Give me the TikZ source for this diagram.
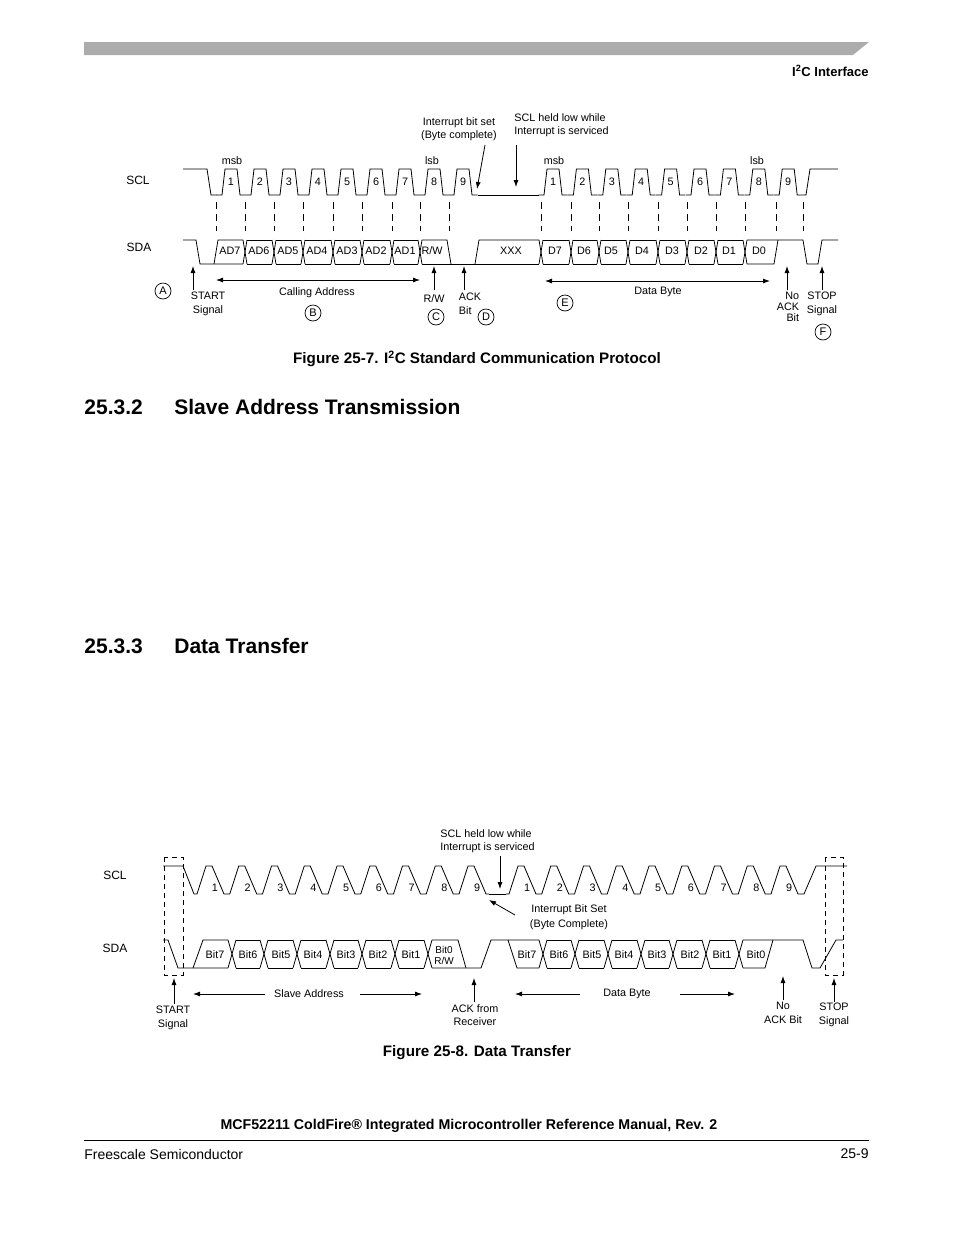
\documentclass[tikz,border=0pt]{standalone}
\usepackage{fontspec}
\setmainfont{Liberation Sans}
\usetikzlibrary{arrows.meta}
\begin{document}
\begin{tikzpicture}[x=1pt,y=-1pt,line width=0.8pt,
  lbl/.style={font=\fontsize{10.8}{13.5}\selectfont,inner sep=0pt,align=center},
  sig/.style={font=\fontsize{12}{14}\selectfont,inner sep=0pt},
  circ/.style={draw,circle,minimum size=16pt,inner sep=0pt,font=\fontsize{11}{12}\selectfont,line width=0.7pt},
  arr/.style={-{Latex[length=7pt,width=5pt]},line width=0.8pt},
  darr/.style={{Latex[length=7pt,width=5pt]}-{Latex[length=7pt,width=5pt]},line width=0.8pt},
  dsh/.style={dash pattern=on 7pt off 5pt,line width=0.8pt},
  head/.style={font=\fontsize{21}{24}\selectfont\bfseries,anchor=west,inner sep=0pt},
  figcap/.style={font=\fontsize{15.2}{17}\selectfont\bfseries,inner sep=0pt}]
\useasboundingbox (0,0) rectangle (954,1235);
% header
\fill[gray!65] (84,42) -- (869,42) -- (853,55) -- (84,55) -- cycle;
\node[anchor=east,inner sep=0pt,font=\fontsize{13}{14}\selectfont\bfseries] (hdr) at (869,71) {I\textsuperscript{2}C Interface};
% ===== Figure 25-7 =====
\node[sig] (scl1) at (138,180) {SCL};
\node[sig] (sda1) at (139,247) {SDA};
% SCL
\draw (183,169)--(207,169)--(211,195)--(217,195);
\foreach \k in {0,...,8}{
  \pgfmathsetmacro\c{231+29*\k}
  \draw (\c-14.5,195)--(\c-9,195)--(\c-6,169)--(\c+6,169)--(\c+9,195)--(\c+14.5,195);
  \pgfmathtruncatemacro\n{\k+1}
  \node[lbl] at (\c,182) {\n};
}
\draw (477.5,195)--(538.6,195);
\foreach \k in {0,...,8}{
  \pgfmathsetmacro\c{553+29.4*\k}
  \draw (\c-14.5,195)--(\c-9,195)--(\c-6,169)--(\c+6,169)--(\c+9,195)--(\c+14.5,195);
  \pgfmathtruncatemacro\n{\k+1}
  \node[lbl] at (\c,182) {\n};
}
\draw (802.7,195)--(806,195)--(810,169)--(838,169);
\node[lbl] at (232,161) {msb};
\node[lbl] at (432,161) {lsb};
\node[lbl] at (554,161) {msb};
\node[lbl] at (757,161) {lsb};
% dashed
\foreach \x in {216,245,274,303,333,362,392,420,449,541,571,599,628,658,687,716,745,776,803}
  \draw[dsh] (\x,202)--(\x,231);
% SDA
\draw (183,240)--(196,240)--(200,264)--(243,264);
\draw (214,264)--(218,240)--(243,240);
\foreach \a/\b in {245/274,274/303,303/333,333/362,362/392,392/420}{
  \draw (\a+2,240)--(\b-2,240); \draw (\a+2,264)--(\b-2,264);}
\foreach \b in {245,274,303,333,362,392,420}{
  \draw (\b-2,240)--(\b+2,264); \draw (\b-2,264)--(\b+2,240);}
\draw (422,240)--(447,240)--(451,264);
\draw (422,264)--(539,264);
\draw (475,264)--(479,240)--(539,240);
\foreach \a/\b in {541/571,571/599,599/628,628/658,658/687,687/716,716/745}{
  \draw (\a+2,240)--(\b-2,240); \draw (\a+2,264)--(\b-2,264);}
\foreach \b in {541,571,599,628,658,687,716,745}{
  \draw (\b-2,240)--(\b+2,264); \draw (\b-2,264)--(\b+2,240);}
\draw (747,264)--(774,264)--(778,240);
\draw (747,240)--(803,240)--(807,264)--(818,264)--(822,240)--(838,240);
\foreach \t/\x in {AD7/230,AD6/259,AD5/288,AD4/317,AD3/347,AD2/376,AD1/405,{R/W}/432,XXX/511,D7/555,D6/584,D5/611,D4/642,D3/672,D2/701,D1/729,D0/759}
  \node[lbl] at (\x,251) {\t};
% annotations
\node[lbl,anchor=north] (start1) at (208,292) {START\\Signal};
\draw[arr] (193,290)--(193,266);
\node[circ] (cA) at (163,291) {A};
\node[lbl] (calling) at (317,293) {Calling Address};
\draw[darr] (216,280)--(420,280);
\node[circ] (cB) at (313,313) {B};
\node[lbl] (rw) at (434,299) {R/W};
\draw[arr] (434,290)--(434,266);
\node[circ] (cC) at (436,317) {C};
\node[lbl,anchor=north,align=left] (ack) at (470,293) {ACK\\Bit};
\draw[arr] (464,290)--(464,266);
\node[circ] (cD) at (486,317) {D};
\node[lbl] (ibs) at (459,129) {Interrupt bit set\\(Byte complete)};
\coordinate (ibsend) at (477,189);
\draw[arr] (485,145)--(ibsend);
\node[lbl,align=left,anchor=west] (held1) at (514,125) {SCL held low while\\Interrupt is serviced};
\draw[arr] (516,145)--(516,187);
\node[lbl] (db1) at (658,292) {Data Byte};
\draw[darr] (545,281)--(770,281);
\node[circ] (cE) at (565,303) {E};
\node[lbl,anchor=north,align=right,font=\fontsize{10.8}{11}\selectfont] (noack) at (788,292) {No\\ACK\\Bit};
\draw[arr] (787,290)--(787,266);
\node[lbl,anchor=north] (stop1) at (822,292) {STOP\\Signal};
\draw[arr] (822,290)--(822,266);
\node[circ] (cF) at (823,332) {F};
\node[figcap] (fig7) at (477,359) {Figure 25-7. I\textsuperscript{2}C Standard Communication Protocol};
% headings
\node[head] (h1) at (84,407) {25.3.2}; \node[head] (h1b) at (174,407) {Slave Address Transmission};
\node[head] (h2) at (84,646) {25.3.3}; \node[head] (h2b) at (174,646) {Data Transfer};
% ===== Figure 25-8 =====
\node[sig] (scl2) at (115,875) {SCL};
\node[sig] (sda2) at (115,948) {SDA};
\draw[dsh,line width=0.7pt,dash pattern=on 5pt off 4pt] (164,857) rectangle (183,975);
\draw[dsh,line width=0.7pt,dash pattern=on 5pt off 4pt] (825,857) rectangle (843,975);
\draw (163,866)--(183,866)--(194,894);
\foreach \k in {0,...,8}{
  \pgfmathsetmacro\v{194+32.75*\k}
  \draw (\v,894)--(\v+3,894)--(\v+12,866)--(\v+18,866)--(\v+30,894)--(\v+32.75,894);
  \pgfmathtruncatemacro\n{\k+1}
  \node[lbl] at (\v+21,888) {\n};
}
\draw (488.75,894)--(506,894);
\foreach \k in {0,...,8}{
  \pgfmathsetmacro\v{506+32.75*\k}
  \draw (\v,894)--(\v+3,894)--(\v+12,866)--(\v+18,866)--(\v+30,894)--(\v+32.75,894);
  \pgfmathtruncatemacro\n{\k+1}
  \node[lbl] at (\v+21,888) {\n};
}
\draw (800.75,894)--(804,894)--(816,866)--(847,866);
% SDA
\draw (163,940)--(168,940)--(178,968)--(228,968);
\draw (193,968)--(203,940)--(228,940);
\foreach \a/\b in {232/264,264/297,297/330,330/362,362/395,395/428}{
  \draw (\a+4,940)--(\b-4,940); \draw (\a+4,968)--(\b-4,968);}
\foreach \b in {232,264,297,330,362,395,428,543,575,608,641,673,706,739}{
  \draw (\b-4,940)--(\b+4,968); \draw (\b-4,968)--(\b+4,940);}
\draw (432,940)--(458,940)--(466,968);
\draw (432,968)--(481,968)--(491,940)--(539,940);
\draw (508,940)--(517,968)--(539,968);
\foreach \a/\b in {543/575,575/608,608/641,641/673,673/706,706/739}{
  \draw (\a+4,940)--(\b-4,940); \draw (\a+4,968)--(\b-4,968);}
\draw (743,968)--(765,968)--(773,940);
\draw (743,940)--(803,940)--(812,968)--(820,968)--(836,940)--(843,940);
\foreach \t/\x in {Bit7/215,Bit6/248,Bit5/281,Bit4/313,Bit3/346,Bit2/378,Bit1/411,Bit7/527,Bit6/559,Bit5/592,Bit4/624,Bit3/657,Bit2/690,Bit1/722,Bit0/756}
  \node[lbl] at (\x,955) {\t};
\node[lbl,font=\fontsize{10}{11}\selectfont] (b0) at (444,955) {Bit0\\R/W};
% annotations
\node[lbl,anchor=north] (start2) at (173,1006) {START\\Signal};
\draw[arr] (174,1004)--(174,978);
\node[lbl] (slave) at (309,994) {Slave Address};
\coordinate (sl) at (193,994); \coordinate (sr) at (422,994);
\draw[arr] (265,994)--(sl);
\draw[arr] (360,994)--(sr);
\node[lbl,anchor=north] (ackr) at (475,1004) {ACK from\\Receiver};
\draw[arr] (474,1002)--(474,978);
\node[lbl] (db2) at (627,994) {Data Byte};
\coordinate (dl) at (515,994); \coordinate (dr) at (735,994);
\draw[arr] (580,994)--(dl);
\draw[arr] (680,994)--(dr);
\node[lbl,anchor=north] (noack2) at (783,1002) {No\\ACK Bit};
\draw[arr] (783,1000)--(783,976);
\node[lbl,anchor=north] (stop2) at (834,1003) {STOP\\Signal};
\draw[arr] (834,1002)--(834,978);
\node[lbl,align=left,anchor=west] (held2) at (440,841) {SCL held low while\\Interrupt is serviced};
\draw[arr] (500,856)--(500,889);
\node[lbl,align=center] (ibs2) at (569,917) {Interrupt Bit Set\\[2pt](Byte Complete)};
\draw[arr] (515,915)--(489,900);
\node[figcap] (fig8) at (477,1053) {Figure 25-8. Data Transfer};
% footer
\node[font=\fontsize{14.2}{16}\selectfont\bfseries,inner sep=0pt] (title) at (469,1126) {MCF52211 ColdFire® Integrated Microcontroller Reference Manual, Rev. 2};
\draw[line width=0.6pt] (84,1140)--(869,1140);
\node[anchor=west,font=\fontsize{14}{16}\selectfont,inner sep=0pt] (fs) at (84,1154) {Freescale Semiconductor};
\node[anchor=east,font=\fontsize{14}{16}\selectfont,inner sep=0pt] (pg) at (869,1154) {25-9};
\end{tikzpicture}
\end{document}
